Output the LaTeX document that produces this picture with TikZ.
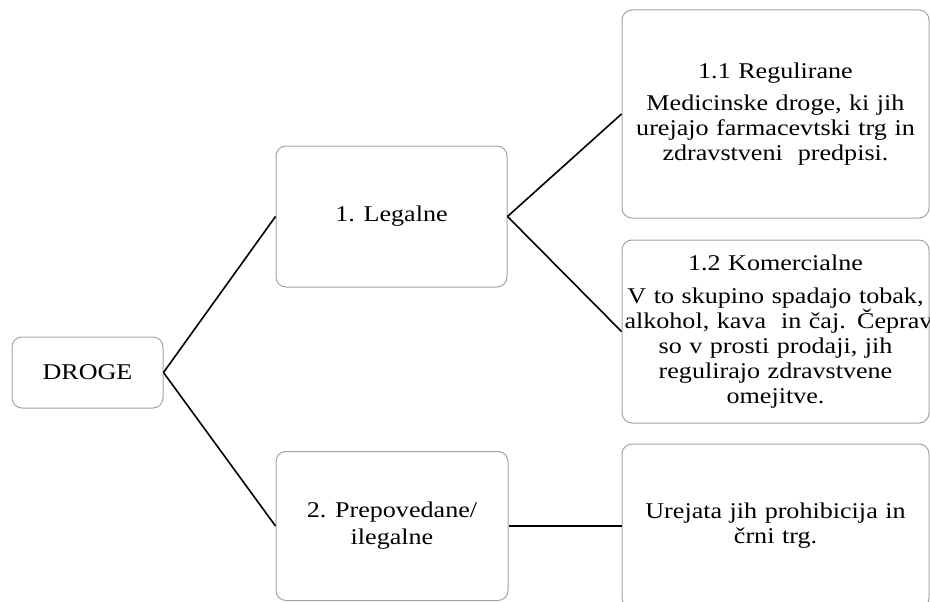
\documentclass[tikz,border=0pt]{standalone}
\usepackage{fontspec}
\setmainfont{Liberation Serif}[FakeStretch=1.16]
\usepackage{tikz}
\definecolor{ink}{HTML}{000000}
\definecolor{framegray}{HTML}{A3A3A3}
\tikzset{
  drugcard/.style={
    draw=framegray, fill=white, line width=1pt, rounded corners=10pt,
    align=center, inner sep=0pt,
    font=\fontsize{22.5}{25}\selectfont
  },
  widecard/.style={drugcard, minimum width=307pt, text width=302pt},
  branch/.style={draw=ink, line width=1.6pt}
}

\begin{document}
\begin{tikzpicture}[x=1pt,y=-1pt]
  \useasboundingbox (0,0) rectangle (930,602);
  \clip (0,0) rectangle (930,602);

  \node[drugcard,minimum width=151pt,minimum height=71pt] (droge) at (87.5,372.5) {DROGE};
  \node[drugcard,minimum width=231pt,minimum height=141pt] (legal) at (391.5,216.5) {1. Legalne};
  \node[drugcard,minimum width=232pt,minimum height=149pt] (illegal) at (392,526) {2. Prepovedane/\\[2pt]ilegalne};

  \node[widecard,minimum height=208pt] (reg) at (775.5,114)
    {1.1 Regulirane\\[7pt]Medicinske droge, ki jih\\urejajo farmacevtski trg in\\zdravstveni\ \ predpisi.};
  \node[widecard,minimum height=183pt] (com) at (775.5,331.5)
    {1.2 Komercialne\\[8pt]\mbox{V to skupino spadajo tobak,}\\\mbox{alkohol, kava\ \ in čaj. Čeprav}\\so v prosti prodaji, jih\\regulirajo zdravstvene\\omejitve.};
  \node[widecard,minimum height=164pt] (proh) at (775.5,526)
    {Urejata jih prohibicija in\\črni trg.};

  \draw[branch] (droge.east) -- (legal.west);
  \draw[branch] (droge.east) -- (illegal.west);
  \draw[branch] (legal.east) -- (reg.west);
  \draw[branch] (legal.east) -- (com.west);
  \draw[branch] (illegal.east) -- (proh.west);
\end{tikzpicture}
\end{document}
